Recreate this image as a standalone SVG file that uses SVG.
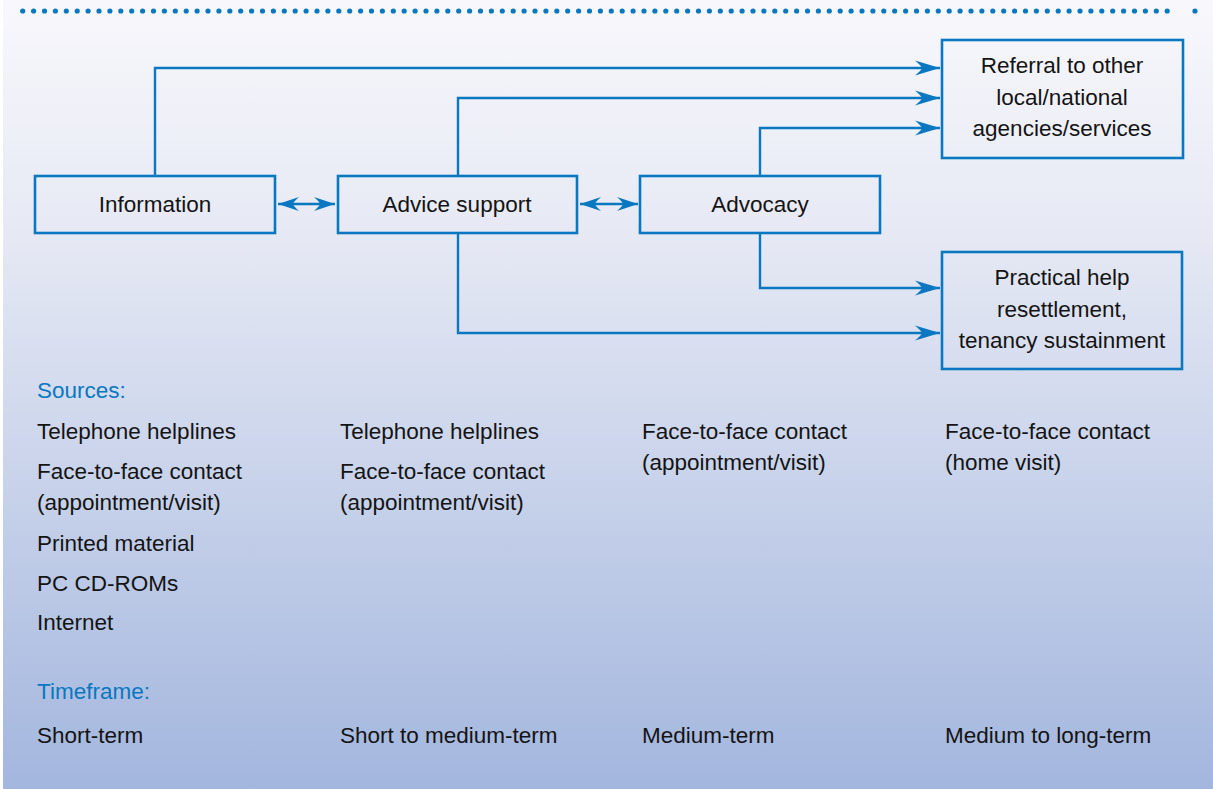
<svg xmlns="http://www.w3.org/2000/svg" width="1213" height="789" viewBox="0 0 1213 789">
<defs>
<linearGradient id="bg" x1="0" y1="0" x2="0" y2="1">
<stop offset="0" stop-color="#f8f8fc"/>
<stop offset="0.3" stop-color="#e6e9f4"/>
<stop offset="1" stop-color="#a3b6de"/>
</linearGradient>
<marker id="ah" markerUnits="userSpaceOnUse" markerWidth="28" markerHeight="18" viewBox="-27 -9 28 18" refX="0" refY="0" orient="auto-start-reverse">
<path d="M0,0 L-25,-7.5 Q-18,-1.5 -18,0 Q-18,1.5 -25,7.5 Z" fill="#0a78c0"/>
</marker>
<marker id="ahs" markerUnits="userSpaceOnUse" markerWidth="24" markerHeight="18" viewBox="-23 -9 24 18" refX="0" refY="0" orient="auto-start-reverse">
<path d="M0,0 L-21,-7 Q-15,-1.5 -15,0 Q-15,1.5 -21,7 Z" fill="#0a78c0"/>
</marker>
</defs>
<style>
.box{fill:none;stroke:#0a78c0;stroke-width:2.6}
.c{fill:none;stroke:#0a78c0;stroke-width:2.4}
text{font-family:"Liberation Sans",Arial,sans-serif;font-size:22.5px;fill:#141414}
.m{text-anchor:middle}
.h{fill:#0a78c0}
</style>
<rect x="3" y="0" width="1210" height="789" fill="url(#bg)"/>
<line x1="22.7" y1="11" x2="1178" y2="11" stroke="#0a78c0" stroke-width="5.2" stroke-linecap="round" stroke-dasharray="0 10.9"/>
<circle cx="1195" cy="11" r="2.6" fill="#0a78c0"/>

<g id="connectors">
<path class="c" d="M155,175 V68 H940" marker-end="url(#ah)"/>
<path class="c" d="M458,175 V98 H940" marker-end="url(#ah)"/>
<path class="c" d="M760,175 V128 H940" marker-end="url(#ah)"/>
<path class="c" d="M760,234 V288 H940" marker-end="url(#ah)"/>
<path class="c" d="M458,234 V333 H940" marker-end="url(#ah)"/>
<path class="c" d="M278,204 H335" marker-start="url(#ahs)" marker-end="url(#ahs)"/>
<path class="c" d="M580,204 H638" marker-start="url(#ahs)" marker-end="url(#ahs)"/>
</g>

<g id="information">
<rect class="box" x="35" y="176" width="240" height="57"/>
<text class="m" x="155" y="212">Information</text>
</g>
<g id="advice">
<rect class="box" x="338" y="176" width="239" height="57"/>
<text class="m" x="457" y="212">Advice support</text>
</g>
<g id="advocacy">
<rect class="box" x="640" y="176" width="240" height="57"/>
<text class="m" x="760" y="212">Advocacy</text>
</g>
<g id="referral">
<rect class="box" x="942" y="40" width="241" height="118"/>
<text class="m" x="1062" y="73">Referral to other</text>
<text class="m" x="1062" y="105">local/national</text>
<text class="m" x="1062" y="136">agencies/services</text>
</g>
<g id="practical">
<rect class="box" x="942" y="252" width="240" height="117"/>
<text class="m" x="1062" y="285">Practical help</text>
<text class="m" x="1062" y="317">resettlement,</text>
<text class="m" x="1062" y="348">tenancy sustainment</text>
</g>

<g id="sources">
<text class="h" x="37" y="398">Sources:</text>
<text x="37" y="439">Telephone helplines</text>
<text x="37" y="479">Face-to-face contact</text>
<text x="37" y="510">(appointment/visit)</text>
<text x="37" y="551">Printed material</text>
<text x="37" y="591">PC CD-ROMs</text>
<text x="37" y="630">Internet</text>
<text x="340" y="439">Telephone helplines</text>
<text x="340" y="479">Face-to-face contact</text>
<text x="340" y="510">(appointment/visit)</text>
<text x="642" y="439">Face-to-face contact</text>
<text x="642" y="470">(appointment/visit)</text>
<text x="945" y="439">Face-to-face contact</text>
<text x="945" y="470">(home visit)</text>
</g>
<g id="timeframe">
<text class="h" x="37" y="699">Timeframe:</text>
<text x="37" y="743">Short-term</text>
<text x="340" y="743">Short to medium-term</text>
<text x="642" y="743">Medium-term</text>
<text x="945" y="743">Medium to long-term</text>
</g>
</svg>
